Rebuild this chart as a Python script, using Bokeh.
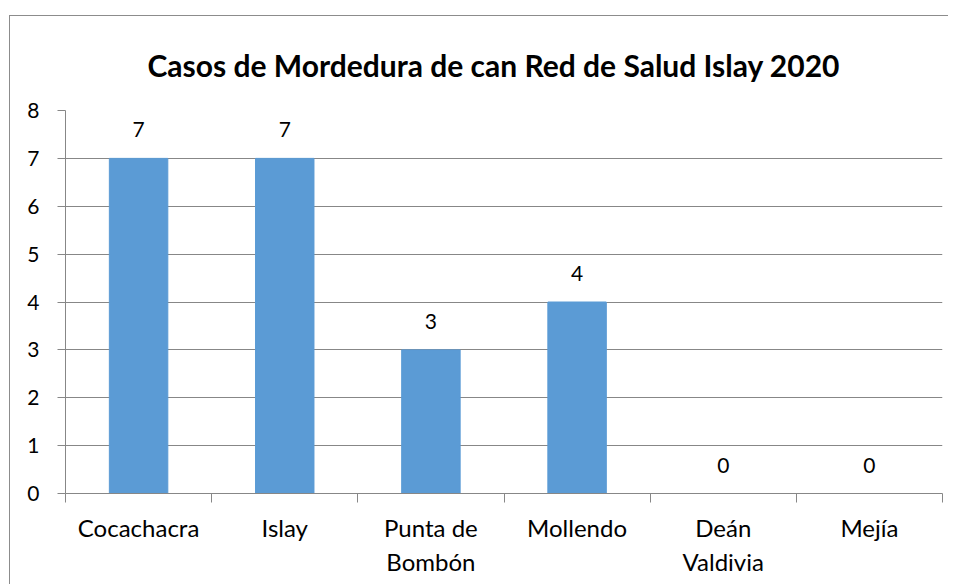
from bokeh.plotting import figure
from bokeh.models import FixedTicker, Range1d
from bokeh.core.properties import value
from bokeh.embed import file_html
from bokeh.resources import INLINE

categories = ["Cocachacra", "Islay", "Punta de\nBombón", "Mollendo", "Deán\nValdivia", "Mejía"]
casos = [7, 7, 3, 4, 0, 0]
y_ticks = [0, 1, 2, 3, 4, 5, 6, 7, 8]
title_text = "Casos de Mordedura de can Red de Salud Islay 2020"

FONT = "Lato"
GRID = "#878787"
BAR = "#5B9BD5"

n = len(categories)
centers = [i + 0.5 for i in range(n)]
bounds = [i for i in range(n + 1)]

p = figure(width=939, height=569, output_backend="svg", toolbar_location=None,
           x_range=Range1d(0, n), y_range=Range1d(0, 8),
           min_border_left=55, min_border_right=7, min_border_top=93, min_border_bottom=92)
p.margin = (15, 0, 0, 9)
p.styles = {"border-top": "1px solid #8c8c8c", "border-left": "1px solid #8c8c8c"}
p.outline_line_color = None

p.title.text = title_text
p.title.text_font = FONT
p.title.text_font_size = "30px"
p.title.text_font_style = "bold"
p.title.align = "left"
p.title.offset = 82
p.title.standoff = 56
p.title.text_color = "black"

p.vbar(x=centers, top=casos, width=0.4, color=BAR)
p.text(x=centers, y=casos, text=[str(v) for v in casos], text_align="center",
       text_baseline="bottom", y_offset=-21, text_font=value(FONT), text_font_size="21px",
       text_color="black")

xa = p.xaxis[0]
xa.ticker = FixedTicker(ticks=centers, minor_ticks=bounds)
xa.major_label_overrides = {c: lab for c, lab in zip(centers, categories)}
xa.major_tick_line_color = None
xa.minor_tick_line_color = GRID
xa.minor_tick_in = 0
xa.minor_tick_out = 9
xa.axis_line_color = GRID
xa.major_label_text_font = FONT
xa.major_label_text_font_size = "24px"
xa.major_label_text_color = "black"
xa.major_label_standoff = 10

ya = p.yaxis[0]
ya.ticker = FixedTicker(ticks=y_ticks, minor_ticks=[])
ya.major_tick_line_color = GRID
ya.major_tick_in = 0
ya.major_tick_out = 8
ya.axis_line_color = GRID
ya.major_label_text_font = FONT
ya.major_label_text_font_size = "21px"
ya.major_label_text_color = "black"
ya.major_label_standoff = 18

p.xgrid.grid_line_color = None
p.ygrid.ticker = FixedTicker(ticks=y_ticks)
p.ygrid.grid_line_color = GRID

open("out.html", "w").write(file_html(p, INLINE))
